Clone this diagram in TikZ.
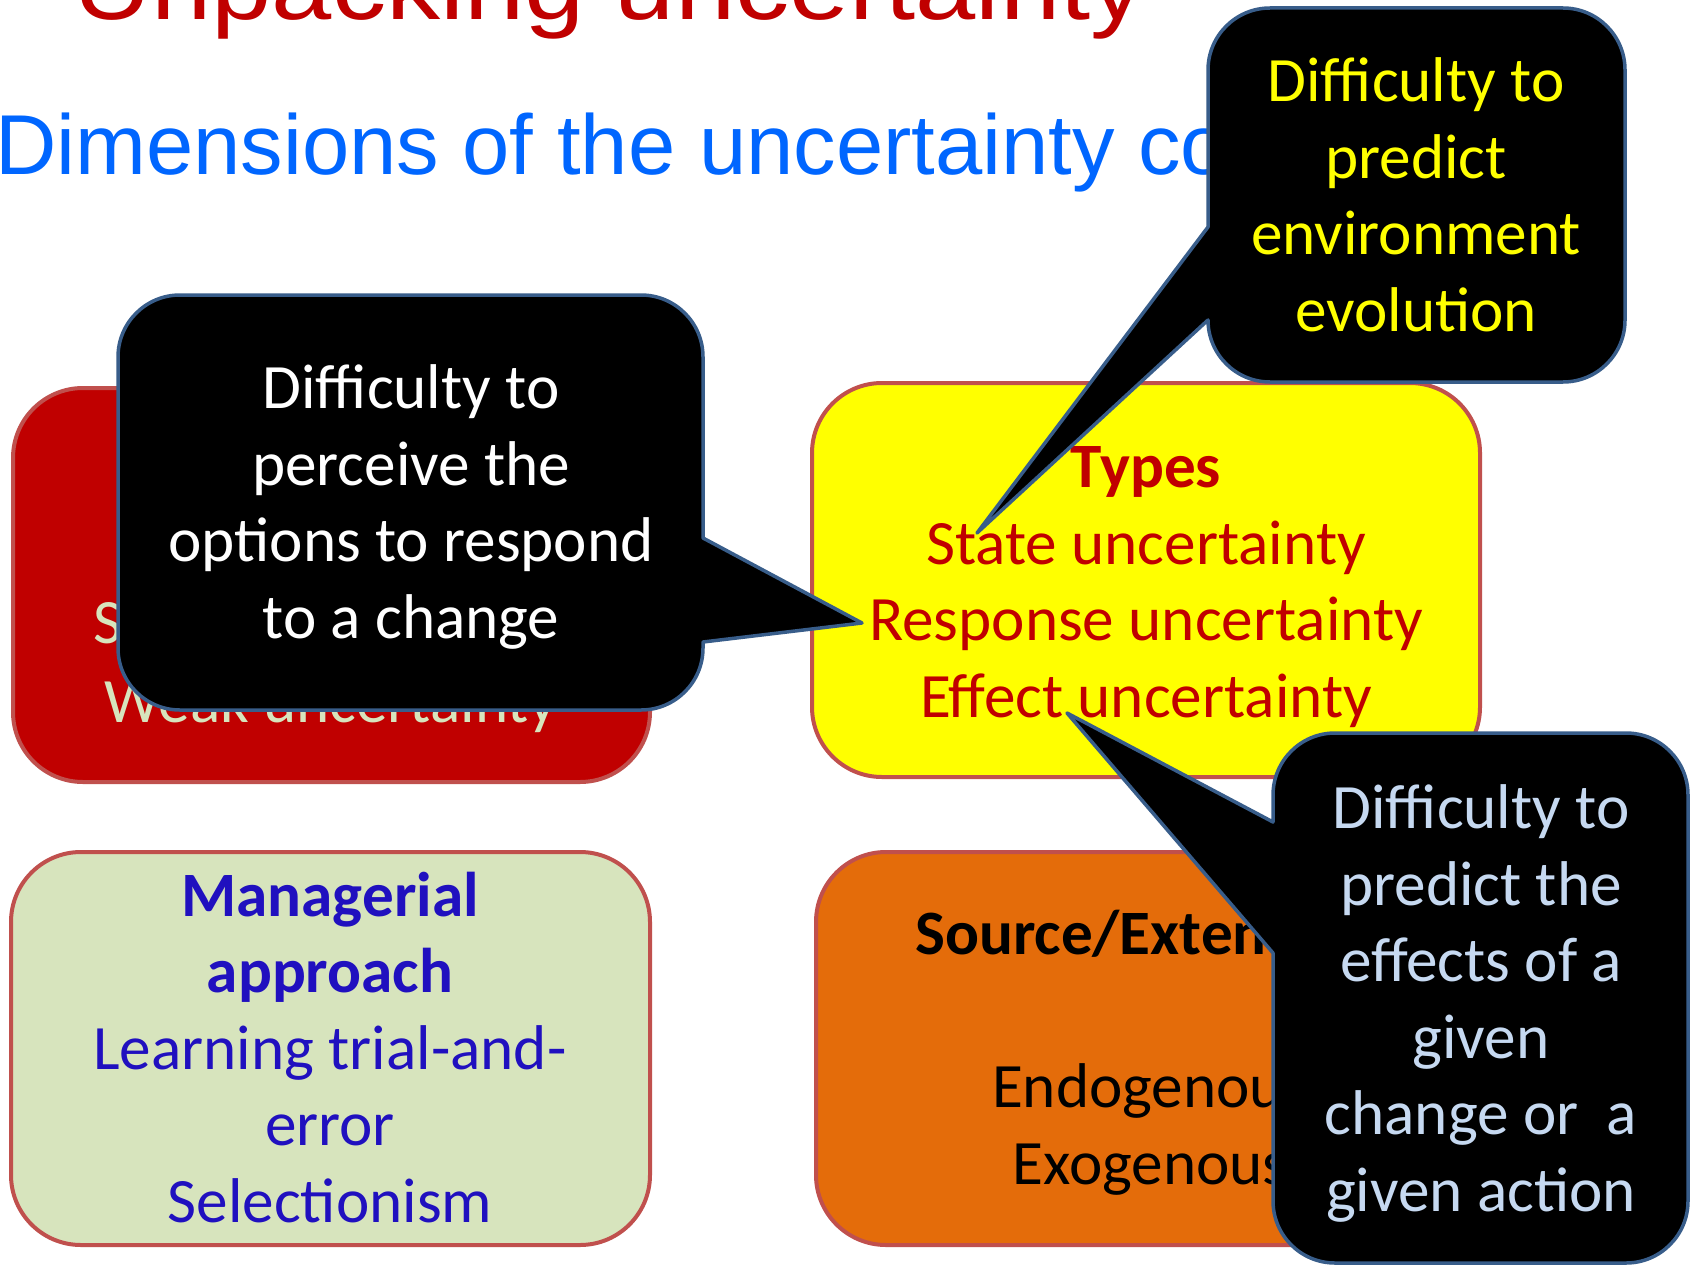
\documentclass[tikz,border=0pt]{standalone}
\usepackage{fontspec}
\setmainfont{Carlito}
\newfontfamily\arialfont{Liberation Sans}
\definecolor{titlered}{HTML}{C00000}
\definecolor{subblue}{HTML}{0066FF}
\definecolor{boxedge}{HTML}{C0504D}
\definecolor{calloutedge}{HTML}{385D8A}
\definecolor{degreefill}{HTML}{C00000}
\definecolor{paleleaf}{HTML}{D7E4BD}
\definecolor{typefill}{HTML}{FFFF00}
\definecolor{sourcefill}{HTML}{E46C0A}
\definecolor{inkblue}{HTML}{2010BF}
\definecolor{paleblue}{HTML}{C6D9F1}
\newcommand\bodyfont{\fontsize{63.2pt}{76.5pt}\selectfont}
% multi-line nodes are placed by the baseline of their last line
\tikzset{
  panel/.style={draw=boxedge, line width=4pt, rounded corners=70pt, inner sep=0pt},
  bubble/.style={fill=black, draw=calloutedge, line width=3.5pt, line join=round},
  body/.style={font=\bodyfont, align=center, inner sep=0pt, anchor=base},
}
\begin{document}
\begin{tikzpicture}[x=1pt,y=1pt]
\clip (0,0) rectangle (1691,-1268);
\fill[white] (0,0) rectangle (1691,-1268);

% headings
\node[anchor=base west, inner sep=0pt, text=titlered] (title) at (73,-20)
  {\scalebox{1.14}[1]{\arialfont\fontsize{95pt}{110pt}\selectfont Unpacking uncertainty}};
\node[anchor=base west, inner sep=0pt, text=subblue] (subtitle) at (-5,-175)
  {\arialfont\fontsize{85pt}{100pt}\selectfont Dimensions of the uncertainty concept};

% the four panels
\node[panel, fill=degreefill, minimum width=637pt, minimum height=394pt] (degree) at (331.5,-585) {};
\node[panel, fill=typefill, minimum width=668pt, minimum height=394pt] (types) at (1146,-580) {};
\node[panel, fill=paleleaf, minimum width=639pt, minimum height=393pt] (approach) at (330.5,-1048.5) {};
\node[panel, fill=sourcefill, minimum width=666pt, minimum height=393pt] (source) at (1149,-1048.5) {};

% panel texts
\node[body, text=paleleaf, font=\fontsize{63.2pt}{79pt}\selectfont] (degreetext) at (331,-722)
  {Strong uncertainty\\Weak uncertainty};
\node[body, text=titlered] (typestext) at (1146,-717)
  {\textbf{Types}\\State uncertainty\\Response uncertainty\\Effect uncertainty};
\node[body, text=inkblue] (approachtext) at (330,-1222)
  {\textbf{Managerial}\\\textbf{approach}\\Learning trial-and-\\error\\Selectionism};
\node[anchor=base west, inner sep=0pt, font=\bodyfont\bfseries] (sourcehead) at (915,-954) {Source/Extent};
\node[body] (sourcetext) at (1150,-1184) {Endogenous\\Exogenous};

% callout on the left, pointing at response uncertainty
\coordinate (tipresponse) at (862,-623);
\draw[bubble] (180,-295) -- (641,-295) arc[start angle=90,end angle=0,radius=62pt]
  -- (703,-538) -- (tipresponse) -- (703,-642) -- (703,-648)
  arc[start angle=0,end angle=-90,radius=62pt] -- (180,-710)
  arc[start angle=270,end angle=180,radius=62pt] -- (118,-357)
  arc[start angle=180,end angle=90,radius=62pt] -- cycle;
\node[body, text=white] (responsenote) at (411,-638)
  {Difficulty to\\perceive the\\options to respond\\to a change};

% callout at the top, pointing at state uncertainty
\coordinate (tipstate) at (977,-533);
\draw[bubble] (1270,-8) -- (1563,-8) arc[start angle=90,end angle=0,radius=62pt]
  -- (1625,-320) arc[start angle=0,end angle=-90,radius=62pt]
  -- (1270,-382) arc[start angle=270,end angle=180,radius=62pt]
  -- (tipstate) -- (1208,-227) -- (1208,-70)
  arc[start angle=180,end angle=90,radius=62pt] -- cycle;
\node[body, text=typefill] (statenote) at (1416,-331)
  {Difficulty to\\predict\\environment\\evolution};

% callout at the bottom right, pointing at effect uncertainty
\coordinate (tipeffect) at (1067,-713);
\draw[bubble] (1335,-733) -- (1626,-733) arc[start angle=90,end angle=0,radius=62pt]
  -- (1688,-1201) arc[start angle=0,end angle=-90,radius=62pt]
  -- (1335,-1263) arc[start angle=270,end angle=180,radius=62pt]
  -- (1273,-953) -- (tipeffect) -- (1273,-822) -- (1273,-795)
  arc[start angle=180,end angle=90,radius=62pt] -- cycle;
\node[body, text=paleblue] (effectnote) at (1481,-1211)
  {Difficulty to\\predict the\\effects of a\\given\\change or~ a\\given action};
\end{tikzpicture}
\end{document}
